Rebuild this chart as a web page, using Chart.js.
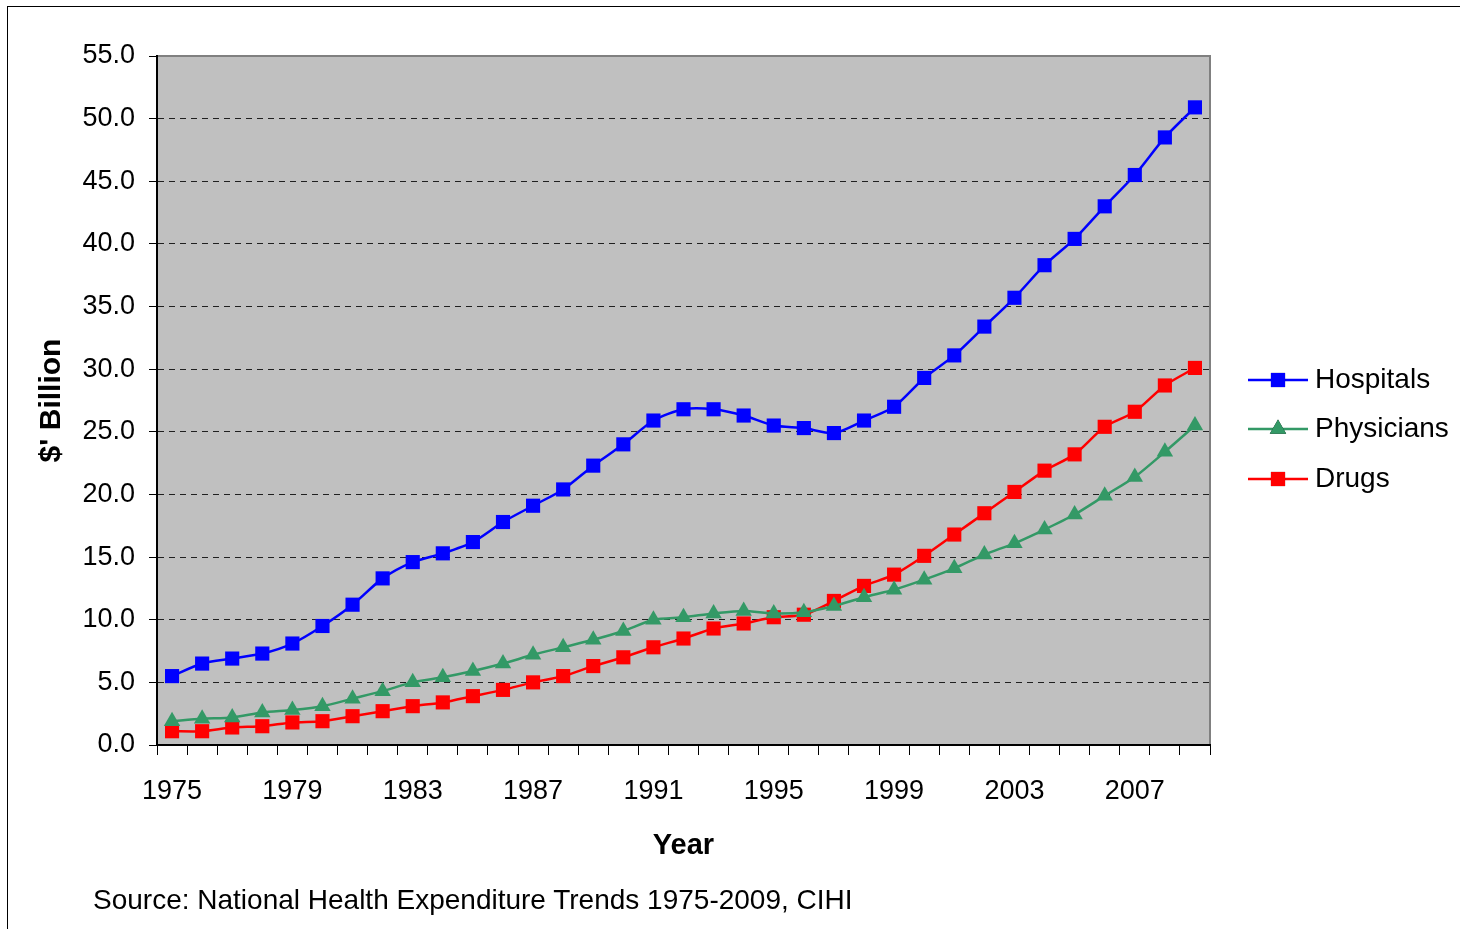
<!DOCTYPE html>
<html>
<head>
<meta charset="utf-8">
<script src="https://cdn.jsdelivr.net/npm/chart.js@4.4.1/dist/chart.umd.min.js"></script>
<style>
  html, body { margin: 0; padding: 0; background: #fff; }
  #wrap { position: relative; width: 1460px; height: 929px; overflow: hidden; }
  #frame { position: absolute; left: 7px; top: 6px; width: 1470px; height: 940px; border: 1px solid #000; box-sizing: border-box; }
  #src { position: absolute; left: 93px; top: 884px; font-family: "Liberation Sans", Arial, sans-serif; font-size: 28px; color: #000; white-space: nowrap; }
  canvas { position: absolute; left: 0; top: 0; }
</style>
</head>
<body>
<div id="wrap">
  <div id="frame"></div>
  <canvas id="myChart" width="1460" height="929"></canvas>
  <div id="src">Source: National Health Expenditure Trends 1975-2009, CIHI</div>
</div>
<script>
// years on the x axis
var years = [];
for (var y = 1975; y <= 2009; y++) { years.push(String(y)); }

// $ billion
var hospitals = [5.5, 6.5, 6.9, 7.3, 8.1, 9.5, 11.2, 13.3, 14.6, 15.3,
                 16.2, 17.8, 19.1, 20.4, 22.3, 24.0, 25.9, 26.8, 26.8, 26.3,
                 25.5, 25.3, 24.9, 25.9, 27.0, 29.3, 31.1, 33.4, 35.7, 38.3,
                 40.4, 43.0, 45.5, 48.5, 50.9];
var physicians = [1.9, 2.1, 2.2, 2.6, 2.8, 3.1, 3.7, 4.3, 5.0, 5.4,
                  5.9, 6.5, 7.2, 7.8, 8.4, 9.1, 10.0, 10.2, 10.5, 10.7,
                  10.5, 10.6, 11.1, 11.8, 12.4, 13.2, 14.1, 15.2, 16.1, 17.2,
                  18.4, 19.9, 21.4, 23.4, 25.5];
var drugs = [1.1, 1.1, 1.4, 1.5, 1.8, 1.9, 2.3, 2.7, 3.1, 3.4,
             3.9, 4.4, 5.0, 5.5, 6.3, 7.0, 7.8, 8.5, 9.3, 9.7,
             10.2, 10.4, 11.5, 12.7, 13.6, 15.1, 16.8, 18.5, 20.2, 21.9,
             23.2, 25.4, 26.6, 28.7, 30.1];

var FONT = '"Liberation Sans", Arial, sans-serif';

// grey plot area with a grey frame
const plotBg = {
    id: 'plotBg',
    beforeDraw(chart) {
        const a = chart.chartArea, c = chart.ctx;
        c.save();
        c.fillStyle = '#C0C0C0';
        c.fillRect(a.left, a.top, a.right - a.left, a.bottom - a.top);
        c.strokeStyle = '#808080';
        c.lineWidth = 2;
        c.strokeRect(a.left, a.top, a.right - a.left, a.bottom - a.top);
        c.restore();
    }
};

// legend: line with marker in the middle, like the original
const sideLegend = {
    id: 'sideLegend',
    afterDraw(chart) {
        const c = chart.ctx;
        const x0 = 1248, x1 = 1308, tx = 1315;
        const ys = [380, 429, 479];
        chart.data.datasets.forEach(function(ds, i) {
            const yy = ys[i];
            c.save();
            c.strokeStyle = ds.borderColor;
            c.lineWidth = 2.5;
            c.beginPath(); c.moveTo(x0, yy); c.lineTo(x1, yy); c.stroke();
            Chart.helpers.drawPoint(c, {pointStyle: ds.pointStyle, radius: ds.pointRadius, borderWidth: 0}, (x0 + x1) / 2, yy);
            c.fillStyle = ds.borderColor;
            c.fill();
            c.fillStyle = '#000';
            c.font = '28px ' + FONT;
            c.textBaseline = 'middle';
            c.fillText(ds.label, tx, yy);
            c.restore();
        });
    }
};

const ctx = document.getElementById('myChart').getContext('2d');
const myChart = new Chart(ctx, {
    type: 'line',
    data: {
        labels: years,
        datasets: [
            {
                label: 'Hospitals',
                data: hospitals,
                borderColor: '#0000FF',
                backgroundColor: '#0000FF',
                borderWidth: 2.5,
                pointStyle: 'rect',
                pointRadius: 10,
                pointBorderWidth: 0,
                tension: 0.25
            },
            {
                label: 'Physicians',
                data: physicians,
                borderColor: '#339966',
                backgroundColor: '#339966',
                borderWidth: 2.5,
                pointStyle: 'triangle',
                pointRadius: 9.5,
                pointBorderWidth: 0,
                tension: 0.25
            },
            {
                label: 'Drugs',
                data: drugs,
                borderColor: '#FF0000',
                backgroundColor: '#FF0000',
                borderWidth: 2.5,
                pointStyle: 'rect',
                pointRadius: 10,
                pointBorderWidth: 0,
                tension: 0.25
            }
        ]
    },
    options: {
        responsive: false,
        animation: false,
        events: [],
        layout: { padding: { left: 0, top: 56, right: 250, bottom: 57 } },
        plugins: {
            legend: { display: false },
            tooltip: { enabled: false }
        },
        scales: {
            x: {
                offset: true,
                afterFit: function(s) { s.height = 127; },
                grid: {
                    offset: true,
                    drawOnChartArea: false,
                    drawTicks: true,
                    tickLength: 10,
                    tickColor: '#000',
                    tickWidth: 1
                },
                border: { color: '#000', width: 2 },
                ticks: {
                    autoSkip: false,
                    maxRotation: 0,
                    padding: 20,
                    color: '#000',
                    font: { family: FONT, size: 27 },
                    callback: function(v, i) { return i % 4 === 0 ? years[i] : ''; }
                },
                title: {
                    display: true,
                    text: 'Year',
                    color: '#000',
                    font: { family: FONT, size: 29, weight: 'bold' },
                    padding: { top: 0, bottom: 9 }
                }
            },
            y: {
                min: 0,
                max: 55,
                afterFit: function(s) { s.width = 157; },
                grid: {
                    color: function(c) {
                        var v = c.tick ? c.tick.value : 0;
                        return (v === 0 || v === 55) ? 'rgba(0,0,0,0)' : '#202020';
                    },
                    lineWidth: 1,
                    tickLength: 8,
                    tickColor: '#000',
                    tickBorderDash: []
                },
                border: { color: '#000', width: 2, dash: [6, 5] },
                ticks: {
                    stepSize: 5,
                    padding: 14,
                    color: '#000',
                    font: { family: FONT, size: 27 },
                    callback: function(v) { return Number(v).toFixed(1); }
                },
                title: {
                    display: true,
                    text: "$' Billion",
                    color: '#000',
                    font: { family: FONT, size: 30, weight: 'bold' },
                    padding: { top: 34, bottom: 0 }
                }
            }
        }
    },
    plugins: [plotBg, sideLegend]
});
</script>
</body>
</html>
